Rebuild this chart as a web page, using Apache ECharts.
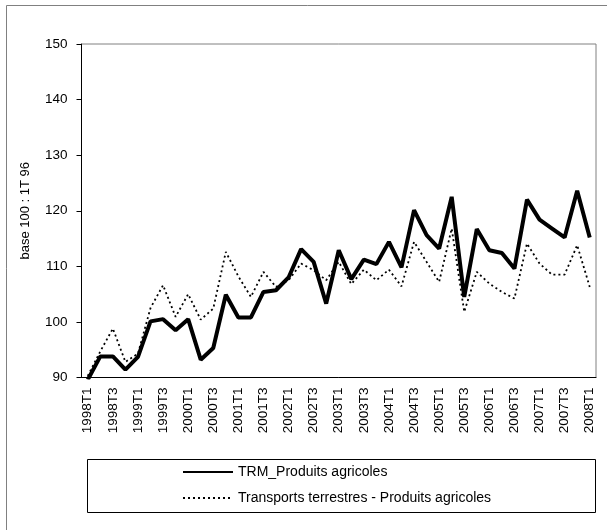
<!DOCTYPE html>
<html>
<head>
<meta charset="utf-8">
<script src="https://cdn.jsdelivr.net/npm/echarts@6/dist/echarts.min.js"></script>
<style>
  html, body { margin: 0; padding: 0; background: #fff; }
  #chart { width: 607px; height: 530px; }
</style>
</head>
<body>
<div id="chart"></div>
<script>
// quarters, one point per quarter
const quarters = [
  '1998T1', '1998T2', '1998T3', '1998T4', '1999T1', '1999T2', '1999T3', '1999T4',
  '2000T1', '2000T2', '2000T3', '2000T4', '2001T1', '2001T2', '2001T3', '2001T4',
  '2002T1', '2002T2', '2002T3', '2002T4', '2003T1', '2003T2', '2003T3', '2003T4',
  '2004T1', '2004T2', '2004T3', '2004T4', '2005T1', '2005T2', '2005T3', '2005T4',
  '2006T1', '2006T2', '2006T3', '2006T4', '2007T1', '2007T2', '2007T3', '2007T4',
  '2008T1'
]
const trmAgri = [
  89.6, 93.8, 93.8, 91.4, 93.7, 100.1, 100.5, 98.5, 100.5, 93.2, 95.3,
  104.9, 100.8, 100.8, 105.4, 105.7, 108.0, 113.1, 110.8, 103.3, 112.9,
  107.7, 111.2, 110.4, 114.4, 109.8, 120.1, 115.6, 113.2, 122.5, 104.5,
  116.7, 112.9, 112.4, 109.6, 122.0, 118.4, 116.8, 115.2, 123.6, 115.2
]
const terrestreAgri = [
  90.3, 94.7, 98.8, 92.8, 94.3, 102.5, 106.6, 100.9, 105.0, 100.4, 102.4,
  112.6, 108.2, 104.5, 109.0, 106.3, 107.5, 110.5, 109.3, 107.5, 110.8,
  106.8, 109.4, 107.5, 109.4, 106.4, 114.4, 110.8, 107.2, 116.8, 101.8,
  109.0, 106.9, 105.4, 104.2, 114.1, 110.5, 108.5, 108.5, 113.8, 106.3
]
const yMin = 90, yMax = 150, yStep = 10

const font = 'Liberation Sans, Arial, sans-serif'
const chart = echarts.init(document.getElementById('chart'), null, { renderer: 'canvas' })

const option = {
  backgroundColor: '#fff',
  animation: false,
  graphic: [
    // outer chart frame
    { type: 'rect', shape: { x: 6.5, y: 5.5, width: 640, height: 600 },
      style: { fill: 'none', stroke: '#808080', lineWidth: 1 }, z: -1 },
    // legend frame
    { type: 'rect', shape: { x: 87.5, y: 459.5, width: 508, height: 53 },
      style: { fill: '#fff', stroke: '#000', lineWidth: 1 }, z: 0 }
  ],
  grid: {
    left: 81.5, right: 11, top: 44, bottom: 152.5,
    show: true, borderColor: '#808080', borderWidth: 1, backgroundColor: '#fff'
  },
  legend: {
    orient: 'vertical',
    left: 182, top: 465,
    padding: 0,
    itemWidth: 50, itemHeight: 14, itemGap: 12,
    data: ['TRM_Produits agricoles', 'Transports terrestres - Produits agricoles'],
    itemStyle: { opacity: 0 },
    textStyle: { fontFamily: font, fontSize: 14, color: '#000' },
    z: 5
  },
  xAxis: {
    type: 'category',
    data: quarters,
    boundaryGap: true,
    axisLine: { lineStyle: { color: '#000', width: 1 } },
    axisTick: { interval: (i) => i % 4 === 0, length: 5, lineStyle: { color: '#000' } },
    axisLabel: {
      interval: 1, rotate: 90, margin: 10,
      fontFamily: font, fontSize: 13.5, color: '#000'
    },
    splitLine: { show: false }
  },
  yAxis: {
    type: 'value',
    min: yMin, max: yMax, interval: yStep,
    name: 'base 100 : 1T 96',
    nameLocation: 'middle',
    nameRotate: 90,
    nameGap: 50,
    nameTextStyle: { fontFamily: font, fontSize: 13, color: '#000' },
    axisLine: { show: true, lineStyle: { color: '#000', width: 1 } },
    axisTick: { show: true, length: 5, lineStyle: { color: '#000' } },
    axisLabel: { margin: 14, fontFamily: font, fontSize: 13.5, color: '#000' },
    splitLine: { show: false }
  },
  series: [
    {
      name: 'Transports terrestres - Produits agricoles',
      type: 'line',
      data: terrestreAgri,
      symbol: 'none',
      lineStyle: { color: '#000', width: 1.8, type: [2, 3] },
      itemStyle: { color: '#000' },
      z: 2
    },
    {
      name: 'TRM_Produits agricoles',
      type: 'line',
      data: trmAgri,
      symbol: 'none',
      lineStyle: { color: '#000', width: 4 },
      itemStyle: { color: '#000' },
      z: 3
    }
  ]
}
chart.setOption(option)
</script>
</body>
</html>
